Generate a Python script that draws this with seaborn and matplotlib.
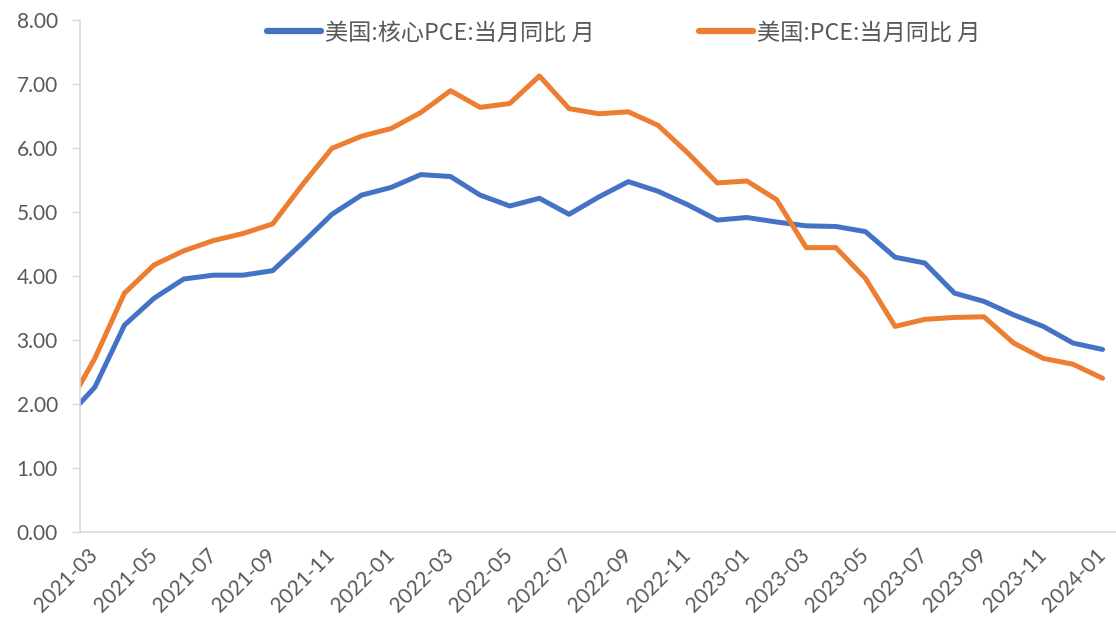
import numpy as np
import pandas as pd
import matplotlib
matplotlib.use("Agg")
import matplotlib.pyplot as plt
import seaborn as sns

# ---- data ----
months = ["2021-02", "2021-03", "2021-04", "2021-05", "2021-06", "2021-07", "2021-08",
          "2021-09", "2021-10", "2021-11", "2021-12", "2022-01", "2022-02", "2022-03",
          "2022-04", "2022-05", "2022-06", "2022-07", "2022-08", "2022-09", "2022-10",
          "2022-11", "2022-12", "2023-01", "2023-02", "2023-03", "2023-04", "2023-05",
          "2023-06", "2023-07", "2023-08", "2023-09", "2023-10", "2023-11", "2023-12",
          "2024-01"]
core_pce = [1.76, 2.26, 3.23, 3.65, 3.95, 4.01, 4.01, 4.08, 4.51, 4.96, 5.26, 5.38,
            5.58, 5.55, 5.26, 5.09, 5.21, 4.96, 5.23, 5.47, 5.32, 5.11, 4.87, 4.91,
            4.84, 4.78, 4.77, 4.69, 4.29, 4.20, 3.73, 3.60, 3.39, 3.21, 2.95, 2.85]
pce = [1.89, 2.71, 3.73, 4.17, 4.39, 4.55, 4.66, 4.81, 5.42, 5.99, 6.18, 6.30,
       6.55, 6.89, 6.63, 6.69, 7.12, 6.61, 6.53, 6.56, 6.35, 5.92, 5.45, 5.48,
       5.19, 4.44, 4.44, 3.96, 3.21, 3.32, 3.35, 3.36, 2.95, 2.71, 2.62, 2.40]
series_names = ["美国:核心PCE:当月同比 月", "美国:PCE:当月同比 月"]
tick_labels = months[1::2]
y_ticks = [0, 1, 2, 3, 4, 5, 6, 7, 8]

BLUE = "#4472C4"
ORANGE = "#ED7D31"
GRID = "#D9D9D9"
TEXT = "#595959"

sns.set_theme(style="white")
plt.rcParams["font.family"] = ["Lato", "Noto Sans CJK SC", "DejaVu Sans"]

n = len(months)
idx = np.arange(n)
df = pd.DataFrame({
    "idx": np.concatenate([idx, idx]),
    "value": core_pce + pce,
    "series": [series_names[0]] * n + [series_names[1]] * n,
})

W, H = 1116, 623
fig = plt.figure(figsize=(W / 100, H / 100), dpi=100)
left, right, top, bottom = 80, 1116, 19.6, 532
ax = fig.add_axes([left / W, 1 - bottom / H, (right - left) / W, (bottom - top) / H])

sns.lineplot(data=df, x="idx", y="value", hue="series", hue_order=series_names,
             palette=[BLUE, ORANGE], linewidth=3.6, ax=ax, sort=False,
             solid_capstyle="round", legend=True)

px_per_month = 29.64
ax.set_xlim(0.5, 0.5 + (right - left) / px_per_month)
ax.set_ylim(0, 8)

# tick marks at category boundaries, labels at category centres
ax.set_xticks(np.arange(0.5, n - 1, 2))
ax.set_xticklabels([])
ax.set_xticks(idx[1::2], minor=True)
ax.set_xticklabels(tick_labels, minor=True, rotation=45, ha="right",
                   rotation_mode="anchor", va="center", color=TEXT, fontsize=15)
ax.tick_params(axis="x", which="major", length=7, width=1, color=GRID, direction="out")
ax.tick_params(axis="x", which="minor", length=0, pad=14)

ax.set_yticks(y_ticks)
ax.set_yticklabels([f"{v:.2f}" for v in y_ticks], color=TEXT, fontsize=15)
ax.tick_params(axis="y", length=6, width=1, color=GRID, direction="out", pad=10, left=True)

for s in ["top", "right"]:
    ax.spines[s].set_visible(False)
for s in ["left", "bottom"]:
    ax.spines[s].set_color(GRID)
    ax.spines[s].set_linewidth(1.2)
ax.grid(False)
ax.set_xlabel("")
ax.set_ylabel("")

handles, labels = ax.get_legend_handles_labels()
ax.legend_.remove()
leg = fig.legend(handles, labels, loc="center", ncol=2, frameon=False,
                 bbox_to_anchor=(624 / W, 1 - 33 / H),
                 handlelength=2.3, handletextpad=0.2, columnspacing=4.5,
                 prop={"family": ["Noto Sans CJK SC", "DejaVu Sans"], "size": 16.7})
for t in leg.get_texts():
    t.set_color(TEXT)
for h in leg.legend_handles:
    h.set_linewidth(4.5)
    h.set_solid_capstyle("round")

fig.savefig("out.png", dpi=100)
